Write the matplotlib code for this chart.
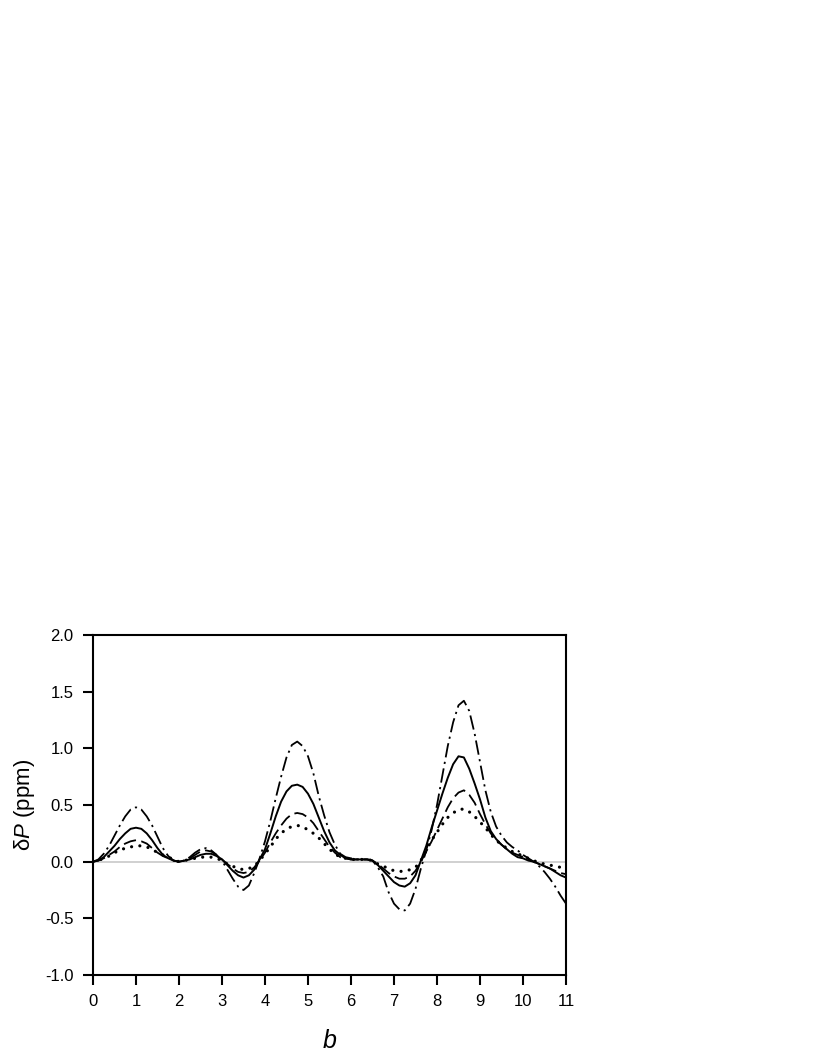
import numpy as np
import matplotlib
matplotlib.use("Agg")
import matplotlib.pyplot as plt

plt.rcParams['font.family'] = ['Liberation Sans', 'DejaVu Sans']
plt.rcParams['mathtext.fontset'] = 'custom'
plt.rcParams['mathtext.rm'] = 'Liberation Sans'
plt.rcParams['mathtext.it'] = 'Liberation Sans:italic'

# b values, step 0.125
b = np.arange(0, 11.001, 0.125)

# largest curve (dash-dot)
dp_dashdot = [0.00, 0.02, 0.07, 0.14, 0.23, 0.32, 0.40, 0.46,
              0.48, 0.46, 0.40, 0.32, 0.22, 0.12, 0.05, 0.01,
              0.00, 0.01, 0.04, 0.08, 0.11, 0.12, 0.10, 0.06,
              0.01, -0.07, -0.15, -0.22, -0.25, -0.21, -0.10, 0.03,
              0.18, 0.36, 0.56, 0.75, 0.92, 1.03, 1.06, 1.02,
              0.93, 0.78, 0.58, 0.41, 0.26, 0.15, 0.07, 0.04,
              0.03, 0.02, 0.02, 0.02, 0.01, -0.05, -0.13, -0.27,
              -0.37, -0.42, -0.43, -0.37, -0.24, -0.06, 0.10, 0.28,
              0.50, 0.76, 1.02, 1.23, 1.38, 1.42, 1.33, 1.13,
              0.88, 0.63, 0.44, 0.31, 0.23, 0.17, 0.13, 0.10,
              0.06, 0.03, 0.00, -0.04, -0.09, -0.15, -0.22, -0.30,
              -0.37]

# solid
dp_solid = [0.00, 0.01, 0.04, 0.09, 0.14, 0.20, 0.25, 0.29,
            0.30, 0.29, 0.25, 0.19, 0.12, 0.06, 0.03, 0.01,
            0.00, 0.01, 0.02, 0.04, 0.06, 0.07, 0.07, 0.05,
            0.02, -0.03, -0.08, -0.12, -0.14, -0.12, -0.07, 0.02,
            0.11, 0.25, 0.40, 0.53, 0.62, 0.67, 0.68, 0.66,
            0.60, 0.51, 0.39, 0.27, 0.17, 0.10, 0.06, 0.03,
            0.02, 0.02, 0.02, 0.02, 0.01, -0.03, -0.08, -0.13,
            -0.18, -0.21, -0.22, -0.19, -0.12, 0.01, 0.14, 0.30,
            0.45, 0.60, 0.74, 0.86, 0.93, 0.92, 0.82, 0.69,
            0.55, 0.39, 0.27, 0.20, 0.15, 0.11, 0.07, 0.04,
            0.03, 0.01, 0.00, -0.02, -0.04, -0.06, -0.09, -0.12,
            -0.14]

# dashed
dp_dashed = [0.00, 0.01, 0.03, 0.06, 0.09, 0.13, 0.16, 0.18,
             0.19, 0.18, 0.16, 0.12, 0.08, 0.05, 0.03, 0.01,
             0.00, 0.01, 0.03, 0.06, 0.09, 0.10, 0.09, 0.06,
             0.02, -0.02, -0.06, -0.09, -0.10, -0.09, -0.05, 0.01,
             0.08, 0.17, 0.25, 0.32, 0.38, 0.42, 0.43, 0.42,
             0.39, 0.34, 0.27, 0.20, 0.13, 0.08, 0.04, 0.03,
             0.02, 0.02, 0.02, 0.02, 0.01, -0.02, -0.06, -0.10,
             -0.13, -0.15, -0.15, -0.13, -0.08, 0.00, 0.09, 0.18,
             0.28, 0.38, 0.48, 0.56, 0.61, 0.63, 0.59, 0.52,
             0.42, 0.33, 0.25, 0.19, 0.15, 0.11, 0.08, 0.06,
             0.04, 0.02, 0.00, -0.02, -0.04, -0.06, -0.08, -0.10,
             -0.11]

# smallest curve (dotted)
dp_dotted = [0.00, 0.01, 0.03, 0.05, 0.08, 0.10, 0.12, 0.13,
             0.14, 0.14, 0.13, 0.11, 0.08, 0.06, 0.04, 0.02,
             0.00, 0.01, 0.02, 0.03, 0.04, 0.04, 0.04, 0.03,
             0.01, -0.02, -0.04, -0.06, -0.07, -0.06, -0.04, 0.01,
             0.07, 0.13, 0.20, 0.25, 0.29, 0.31, 0.32, 0.31,
             0.28, 0.25, 0.21, 0.16, 0.11, 0.07, 0.04, 0.03,
             0.02, 0.02, 0.02, 0.02, 0.01, -0.02, -0.04, -0.06,
             -0.08, -0.085, -0.085, -0.07, -0.05, 0.01, 0.10, 0.19,
             0.26, 0.33, 0.39, 0.43, 0.46, 0.465, 0.44, 0.40,
             0.35, 0.30, 0.24, 0.19, 0.15, 0.12, 0.09, 0.07,
             0.05, 0.03, 0.01, -0.01, -0.02, -0.03, -0.04, -0.05,
             -0.06]

x_ticks = np.arange(0, 12, 1)
y_ticks = np.arange(-1.0, 2.01, 0.5)

fig = plt.figure(figsize=(8.17, 10.58), dpi=100)
ax = fig.add_axes([0.1138, 0.0784, 0.579, 0.3214])

ax.axhline(0, color='#c8c8c8', lw=1.2, zorder=1)

ax.plot(b, dp_dashdot, color='black', lw=1.3, ls=(0, (8, 2.5, 1.2, 2.5)))
ax.plot(b, dp_solid, color='black', lw=1.4, ls='-')
ax.plot(b, dp_dashed, color='black', lw=1.3, ls=(0, (7, 3)))
ax.plot(b, dp_dotted, color='black', lw=2.3, ls=(0, (0.01, 2.6)),
        dash_capstyle='round')

ax.set_xlim(0, 11)
ax.set_ylim(-1.0, 2.0)
ax.set_xticks(x_ticks)
ax.set_yticks(y_ticks)
ax.set_yticklabels(['%.1f' % v for v in y_ticks])

for s in ax.spines.values():
    s.set_linewidth(1.5)
ax.tick_params(direction='out', length=7, width=1.5, labelsize=12)
ax.tick_params(axis='x', pad=7)
ax.tick_params(axis='y', pad=7)

ax.set_xlabel('$\\mathit{b}$', fontsize=18, labelpad=14)
ax.set_ylabel('δ$\\mathit{P}$ (ppm)', fontsize=16, labelpad=6)

fig.savefig('out.png', dpi=100)
